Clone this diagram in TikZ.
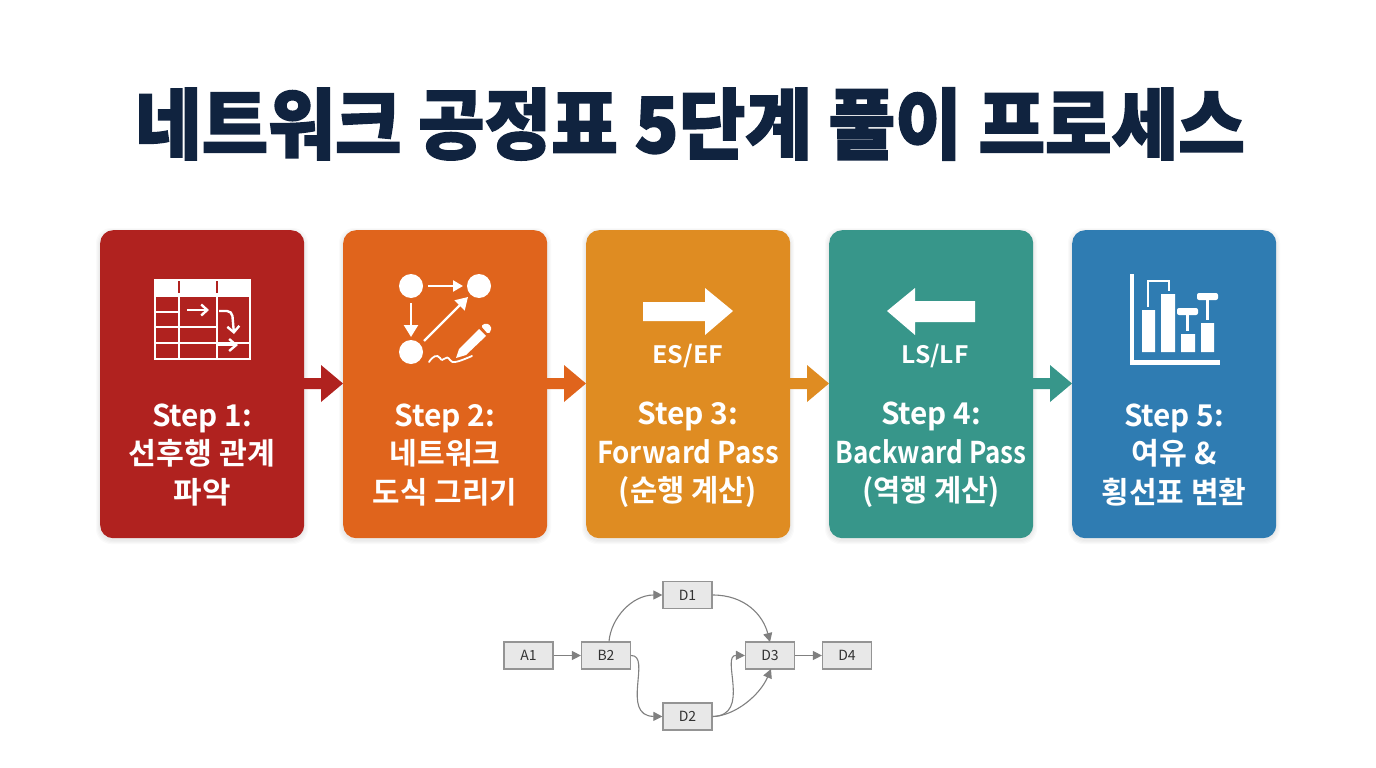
\documentclass[tikz,border=0pt]{standalone}
\usepackage{fontspec}
\usepackage{graphicx}
\setmainfont{Noto Sans CJK KR}
\newfontfamily\krb{Noto Sans CJK KR Bold}
\newfontfamily\krk[FakeBold=2]{Noto Sans CJK KR Black}
\usetikzlibrary{arrows.meta}
\definecolor{cA}{HTML}{B0221F}
\definecolor{cB}{HTML}{E0641C}
\definecolor{cC}{HTML}{DF8C22}
\definecolor{cD}{HTML}{37968A}
\definecolor{cE}{HTML}{2F7CB2}
\definecolor{ink}{HTML}{10233F}
\newcommand\fitw[2]{\resizebox{#1pt}{\height}{#2}}
\tikzset{
 x=1pt,y=-1pt,
 card/.style={draw=none,fill=#1,rounded corners=13pt,minimum width=204pt,minimum height=308pt,inner sep=0pt,anchor=north west},
 cardtxt/.style={text=white,align=center,font=\krb\fontsize{30}{38.5}\selectfont,inner sep=0pt},
 subtxt/.style={text=white,font=\krb\fontsize{24}{28}\selectfont,inner sep=0pt},
 softshade/.style={fill=black,fill opacity=0.018,rounded corners=15pt},
 sbox/.style={draw=black!42,fill=black!9,line width=1.2pt,minimum width=49pt,minimum height=27pt,inner sep=0pt,font=\fontsize{14}{16}\selectfont,text=black!80},
 sarr/.style={draw=black!50,line width=1.1pt,-{Triangle[length=9pt,width=9pt,fill=black!50]}},
}
\begin{document}
\begin{tikzpicture}
\useasboundingbox (0,0) rectangle (1376,768);
\fill[white] (0,0) rectangle (1376,768);
\node[text=ink,font=\krk\fontsize{77}{90}\selectfont,inner sep=0pt] (title) at (690,124) {\fitw{1110}{네트워크 공정표 5단계 풀이 프로세스}};
% soft shadows
\foreach \x in {100,343,586,829,1072}{
 \foreach \g in {1,2,3,4}{
  \fill[softshade] (\x-\g,230-\g+2) rectangle (\x+204+\g,538+\g+2);
 }
}
\foreach \a/\x/\c in {a1/304/cA,a2/547/cB,a3/790/cC,a4/1033/cD}{
 \fill[\c] (\x,378) -- ++(17,0) -- ++(0,-13) -- ++(22,18.5) -- ++(-22,18.5) -- ++(0,-13) -- ++(-17,0) -- cycle;
}
\node[card=cA] (c1) at (100,230) {};
\node[card=cB] (c2) at (343,230) {};
\node[card=cC] (c3) at (586,230) {};
\node[card=cD] (c4) at (829,230) {};
\node[card=cE] (c5) at (1072,230) {};
% icon 1
\fill[white] (154,279) rectangle (251,296);
\draw[white,line width=2.4pt] (155,296) rectangle (250,359);
\draw[white,line width=2.4pt] (179,296) -- (179,359) (217,296) -- (217,359);
\draw[white,line width=2.4pt] (155,312) -- (179,312) (155,327) -- (217,327) (155,343) -- (250,343);
\draw[cA,line width=2.5pt] (179,281) -- (179,293) (217,281) -- (217,293);
\draw[white,line width=2.4pt,-{Straight Barb[length=6pt,width=11pt,line width=2.4pt]}] (187,310) -- (209,310);
\draw[white,line width=2.4pt,rounded corners=5pt,-{Straight Barb[length=6pt,width=12pt,line width=2.4pt]}] (219,311) -- (232,311) -- (234,334);
\draw[white,line width=2.4pt,-{Straight Barb[length=7pt,width=12pt,line width=2.4pt]}] (218,345) -- (238,345);
% icon 2
\fill[white] (411,286) circle (12pt) (479,286) circle (12pt) (411,352) circle (12pt);
\draw[white,line width=2.4pt,-{Triangle[length=10pt,width=11pt]}] (428,286) -- (463,286);
\draw[white,line width=2.4pt,-{Triangle[length=12pt,width=14pt]}] (411,303) -- (411,337);
\draw[white,line width=2.4pt,-{Triangle[length=12pt,width=14pt]}] (424,341) -- (468,297);
\fill[white] (479,329) -- (486,336) -- (466,355) -- (456,358) -- (459,349) -- cycle;
\fill[white,rounded corners=1.5pt] (481,326) -- (486,323) -- (491,326) -- (491,331) -- (488,334) -- cycle;
\draw[white,line width=1.8pt,line cap=round] (429,362) .. controls (433,356) and (437,354) .. (440,358) .. controls (443,364) and (446,353) .. (450,360) .. controls (452,364) and (458,362) .. (472,356);
% icon 3
\fill[white] (643,302) -- (705,302) -- (705,288) -- (733,311) -- (705,335) -- (705,321) -- (643,321) -- cycle;
\node[subtxt] (t3) at (688,356) {\fitw{71}{ES/EF}};
% icon 4
\fill[white] (975,301) -- (915,301) -- (915,288) -- (887,311) -- (915,335) -- (915,322) -- (975,322) -- cycle;
\node[subtxt] (t4) at (935,356) {\fitw{67}{LS/LF}};
% icon 5
\draw[white,line width=4.5pt] (1132,274) -- (1132,362.5) -- (1220,362.5);
\fill[white] (1142,310) rectangle (1155,352) (1161,294) rectangle (1175,352) (1181,334) rectangle (1195,352) (1201,323) rectangle (1214,352);
\draw[white,line width=2.4pt] (1148,307) -- (1148,281) -- (1169,281) -- (1169,291);
\fill[white,rounded corners=2pt] (1177,308) rectangle (1198,315) (1197,293) rectangle (1218,300);
\draw[white,line width=3pt] (1187,314) -- (1187,331) (1207,299) -- (1207,320);
% text
\node[cardtxt] (s1) at (202,455) {\fitw{100}{Step 1:}\\\fitw{146}{선후행 관계}\\\fitw{57}{파악}};
\node[cardtxt] (s2) at (445,455) {\fitw{101}{Step 2:}\\\fitw{111}{네트워크}\\\fitw{144}{도식 그리기}};
\node[cardtxt] (s3) at (688,455) {\fitw{101}{Step 3:}\\\fitw{182}{Forward Pass}\\\fitw{138}{(순행 계산)}};
\node[cardtxt] (s4) at (931,455) {\fitw{100}{Step 4:}\\\fitw{191}{Backward Pass}\\\fitw{138}{(역행 계산)}};
\node[cardtxt] (s5) at (1174,455) {\fitw{100}{Step 5:}\\\fitw{85}{여유 \&}\\\fitw{145}{횡선표 변환}};
% small graph
\node[sbox] (A1) at (528.5,655.5) {A1};
\node[sbox] (B2) at (606,655.5) {B2};
\node[sbox] (D1) at (687.5,595) {D1};
\node[sbox] (D2) at (687.5,716.5) {D2};
\node[sbox] (D3) at (770,655.5) {D3};
\node[sbox] (D4) at (847,655.5) {D4};
\draw[sarr] (A1) -- (B2);
\draw[sarr] (D3) -- (D4);
\draw[sarr] ([xshift=3pt]B2.north) .. controls (611,618) and (632,595) .. (D1.west);
\draw[sarr] (D1.east) .. controls (745,595) and (763,615) .. (770,642);
\draw[sarr] (B2.east) .. controls (652,655) and (620,716) .. (D2.west);
\draw[sarr] (D2.east) .. controls (752,716) and (720,655) .. (D3.west);
\draw[sarr] (D2.east) .. controls (735,716) and (760,695) .. (771,669);
\end{tikzpicture}
\end{document}
